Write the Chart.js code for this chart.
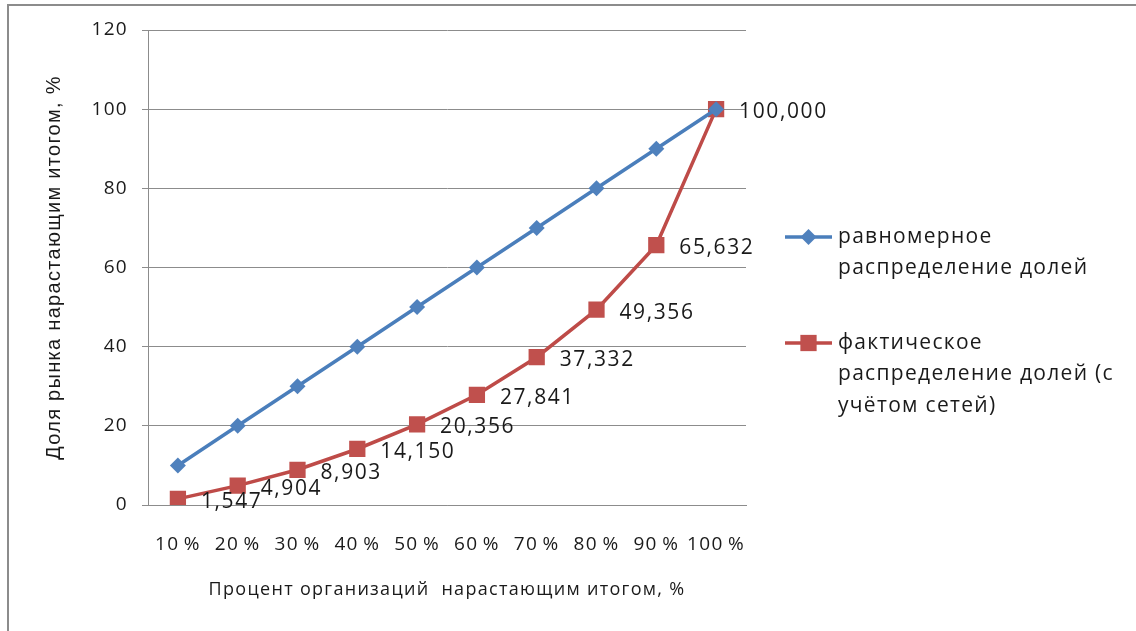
<!DOCTYPE html>
<html>
<head>
<meta charset="utf-8">
<script src="https://cdn.jsdelivr.net/npm/chart.js@4.4.1/dist/chart.umd.min.js"></script>
<style>
  html, body { margin: 0; padding: 0; background: #fff; }
  #wrap { position: relative; width: 1136px; height: 631px; }
  #frame { position: absolute; left: 7px; top: 4px; width: 1127px; height: 640px;
           border-top: 2px solid #8c8c8c; border-left: 2px solid #8c8c8c; }
  canvas { position: absolute; left: 0; top: 0; }
</style>
</head>
<body>
<div id="wrap">
  <div id="frame"></div>
  <canvas id="lineGraph" width="1136" height="631"></canvas>
</div>
<script>
// data
const categories = ['10\u2009%', '20\u2009%', '30\u2009%', '40\u2009%', '50\u2009%', '60\u2009%', '70\u2009%', '80\u2009%', '90\u2009%', '100\u2009%'];
const evenShare = [10, 20, 30, 40, 50, 60, 70, 80, 90, 100];
const actualShare = [1.547, 4.904, 8.903, 14.150, 20.356, 27.841, 37.332, 49.356, 65.632, 100.000];
const yTicks = [0, 20, 40, 60, 80, 100, 120];
const seriesNames = [
    ['равномерное', 'распределение долей'],
    ['фактическое', 'распределение долей (с', 'учётом сетей)']
];

const BLUE = '#4a7ebb';
const RED = '#be4b48';
const calibri = "'Open Sans', 'Noto Sans', sans-serif";
const SPACING = '1.3px';

// the original text is rendered quite wide, so spread the letters a bit
const spacing = {
    id: 'spacing',
    beforeUpdate(chart) { chart.ctx.letterSpacing = SPACING; },
    beforeDraw(chart) { chart.ctx.letterSpacing = SPACING; }
};

// value labels next to the red points
const valueLabels = {
    id: 'valueLabels',
    afterDatasetsDraw(chart) {
        const ctx = chart.ctx;
        const meta = chart.getDatasetMeta(1);
        ctx.save();
        ctx.letterSpacing = '1.6px';
        ctx.font = '21px ' + calibri;
        ctx.fillStyle = '#1a1a1a';
        ctx.textAlign = 'left';
        ctx.textBaseline = 'middle';
        meta.data.forEach(function (pt, i) {
            const txt = actualShare[i].toFixed(3).replace('.', ',');
            ctx.fillText(txt, pt.x + 23, pt.y + 3);
        });
        ctx.restore();
    }
};

// legend on the right, text wraps like the original
const sideLegend = {
    id: 'sideLegend',
    afterDraw(chart) {
        const ctx = chart.ctx;
        const x0 = 785, x1 = 832, tx = 838, lh = 31.5;
        const rows = [237, 343];
        ctx.save();
        chart.data.datasets.forEach(function (ds, i) {
            const y = rows[i];
            ctx.strokeStyle = ds.borderColor;
            ctx.lineWidth = 3.5;
            ctx.beginPath();
            ctx.moveTo(x0, y);
            ctx.lineTo(x1, y);
            ctx.stroke();
            ctx.fillStyle = ds.pointBackgroundColor;
            ctx.strokeStyle = ds.pointBackgroundColor;
            Chart.helpers.drawPoint(ctx, {
                pointStyle: ds.pointStyle, radius: ds.pointRadius, rotation: 0, borderWidth: 0
            }, (x0 + x1) / 2, y);
            ctx.fillStyle = '#1a1a1a';
            ctx.letterSpacing = '1.3px';
            ctx.font = '21px ' + calibri;
            ctx.textAlign = 'left';
            ctx.textBaseline = 'middle';
            seriesNames[i].forEach(function (line, k) {
                ctx.fillText(line, tx, y + k * lh);
            });
        });
        ctx.restore();
    }
};

const lineChart = document.getElementById('lineGraph');
let chart = new Chart(lineChart, {
    type: 'line',
    data: {
        labels: categories,
        datasets: [{
            label: seriesNames[0].join(' '),
            data: evenShare,
            borderColor: BLUE,
            backgroundColor: BLUE,
            pointBackgroundColor: '#4f81bd',
            pointBorderColor: '#4f81bd',
            pointStyle: 'rectRot',
            pointRadius: 8,
            pointBorderWidth: 0,
            borderWidth: 3.5,
            tension: 0
        }, {
            label: seriesNames[1].join(' '),
            data: actualShare,
            borderColor: RED,
            backgroundColor: RED,
            pointBackgroundColor: '#c0504d',
            pointBorderColor: '#c0504d',
            pointStyle: 'rect',
            pointRadius: 11.5,
            pointBorderWidth: 0,
            borderWidth: 3.5,
            tension: 0
        }]
    },
    options: {
        responsive: false,
        animation: false,
        layout: { padding: { left: 0, right: 390, top: 30, bottom: 0 } },
        plugins: {
            legend: { display: false },
            tooltip: { enabled: false }
        },
        scales: {
            x: {
                offset: true,
                grid: { display: false, drawTicks: false },
                border: { display: true, color: '#8c8c8c', width: 1 },
                ticks: { color: '#1a1a1a', font: { family: calibri, size: 19 }, padding: 28,
                         maxRotation: 0, autoSkip: false },
                title: {
                    display: true,
                    text: 'Процент организаций  нарастающим итогом, %',
                    color: '#1a1a1a',
                    font: { family: calibri, size: 18 },
                    padding: { top: 0, bottom: 30 }
                },
                afterFit(scale) { scale.height = 126; }
            },
            y: {
                min: 0,
                max: 120,
                afterBuildTicks(scale) { scale.ticks = yTicks.map(v => ({ value: v })); },
                grid: { color: '#8c8c8c', lineWidth: 1, tickLength: 6, drawTicks: true },
                border: { display: true, color: '#8c8c8c', width: 1 },
                ticks: { color: '#1a1a1a', font: { family: calibri, size: 19 }, padding: 14 },
                title: {
                    display: true,
                    text: 'Доля рынка нарастающим итогом, %',
                    color: '#1a1a1a',
                    font: { family: "'Liberation Sans', Arial, sans-serif", size: 20 },
                    padding: { top: 42, bottom: 0 }
                },
                afterFit(scale) { scale.width = 148; }
            }
        }
    },
    plugins: [spacing, valueLabels, sideLegend]
});
</script>
</body>
</html>
